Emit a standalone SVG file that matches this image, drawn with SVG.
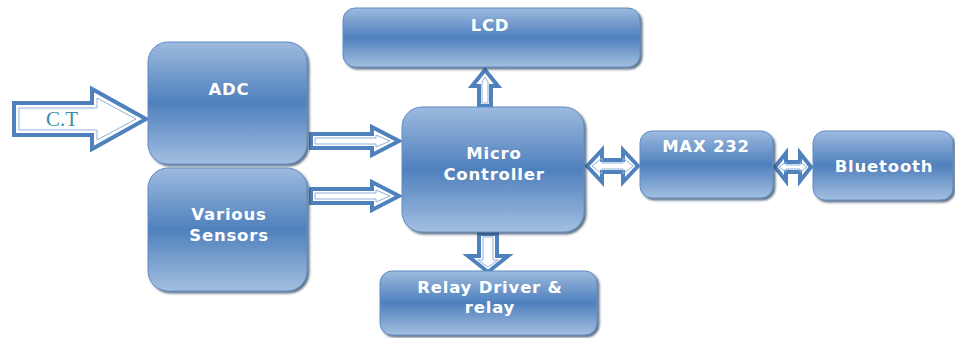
<svg xmlns="http://www.w3.org/2000/svg" width="955" height="338" viewBox="0 0 955 338">
<defs>
<linearGradient id="g" x1="0" y1="0" x2="0" y2="1">
<stop offset="0" stop-color="#9dbade"/>
<stop offset="0.5" stop-color="#4f80bd"/>
<stop offset="1" stop-color="#a3bfe0"/>
</linearGradient>
<filter id="sh" x="-10%" y="-10%" width="130%" height="130%">
<feDropShadow dx="2" dy="2" stdDeviation="1.2" flood-color="#1f3350" flood-opacity="0.7"/>
</filter>
</defs>
<style>
.box{fill:url(#g);stroke:#5f8cc4;stroke-width:1;filter:url(#sh)}
.t{font-family:"DejaVu Sans",Verdana,sans-serif;font-weight:bold;font-size:16.5px;letter-spacing:0.8px;fill:#ffffff;text-anchor:middle}
.ar{fill:#ffffff;stroke:#4f81bd;stroke-width:4;stroke-linejoin:miter}
.ai{fill:none;stroke:#8fb0d9;stroke-width:1}
.ct{font-family:"Liberation Serif","Times New Roman",serif;font-size:21px;fill:#3a8ea5;text-anchor:middle}
</style>
<g id="connectors">
<g id="ct-arrow">
<path class="ar" d="M14,103 H92 V89 L146,119 L92,149 V135 H14 Z"/>
<path class="ai" d="M19,108 H97 V98 L136,119 L97,140 V130 H19 Z"/>
<text class="ct" x="62" y="126">C.T</text>
</g>
<path class="ar" d="M311,134 H372 V127 L399,141 L372,155 V148 H311 Z"/>
<path class="ai" d="M315,138 H376 V135 L390,141 L376,147 V144 H315 Z"/>
<path class="ar" d="M311,189 H372 V182 L399,196 L372,210 V203 H311 Z"/>
<path class="ai" d="M315,193 H376 V190 L390,196 L376,202 V199 H315 Z"/>
<path class="ar" d="M479,106 V86 H472 L485,70 L498,86 H491 V106 Z"/>
<path class="ai" d="M482,103 V82 L485,77 L488,82 V103 Z"/>
<path class="ar" d="M479,234 V256 H468 L488,272 L508,256 H497 V234 Z"/>
<path class="ai" d="M483,237 V260 H478 L488,267 L498,260 H493 V237 Z"/>
<path class="ar" d="M587,166 L602,150 V160 H623 V150 L638,166 L623,182 V172 H602 V182 Z"/>
<path class="ai" d="M592,166 L602,158 V163 H623 V158 L633,166 L623,174 V169 H602 V174 Z"/>
<path class="ar" d="M775,167 L786,153 V162 H800 V153 L811,167 L800,181 V172 H786 V181 Z"/>
<path class="ai" d="M779,167 L786,162 V165 H800 V162 L807,167 L800,172 V169 H786 V172 Z"/>
</g>
<g id="adc">
<rect class="box" x="148" y="42" width="159" height="122" rx="20"/>
<text class="t" x="229" y="95">ADC</text>
</g>
<g id="sensors">
<rect class="box" x="148" y="168" width="159" height="123" rx="20"/>
<text class="t" x="229" y="220">Various</text>
<text class="t" x="229" y="241">Sensors</text>
</g>
<g id="lcd">
<rect class="box" x="343" y="8" width="297" height="59" rx="12"/>
<text class="t" x="490" y="31">LCD</text>
</g>
<g id="mc">
<rect class="box" x="402" y="107" width="182" height="125" rx="20"/>
<text class="t" x="494" y="159">Micro</text>
<text class="t" x="494" y="180">Controller</text>
</g>
<g id="relay">
<rect class="box" x="380" y="271" width="217" height="64" rx="12"/>
<text class="t" x="490" y="293">Relay Driver &amp;</text>
<text class="t" x="490" y="313">relay</text>
</g>
<g id="max232">
<rect class="box" x="640" y="131" width="133" height="67" rx="12"/>
<text class="t" x="706" y="152">MAX 232</text>
</g>
<g id="bluetooth">
<rect class="box" x="813" y="131" width="140" height="69" rx="12"/>
<text class="t" x="884" y="172">Bluetooth</text>
</g>
</svg>
